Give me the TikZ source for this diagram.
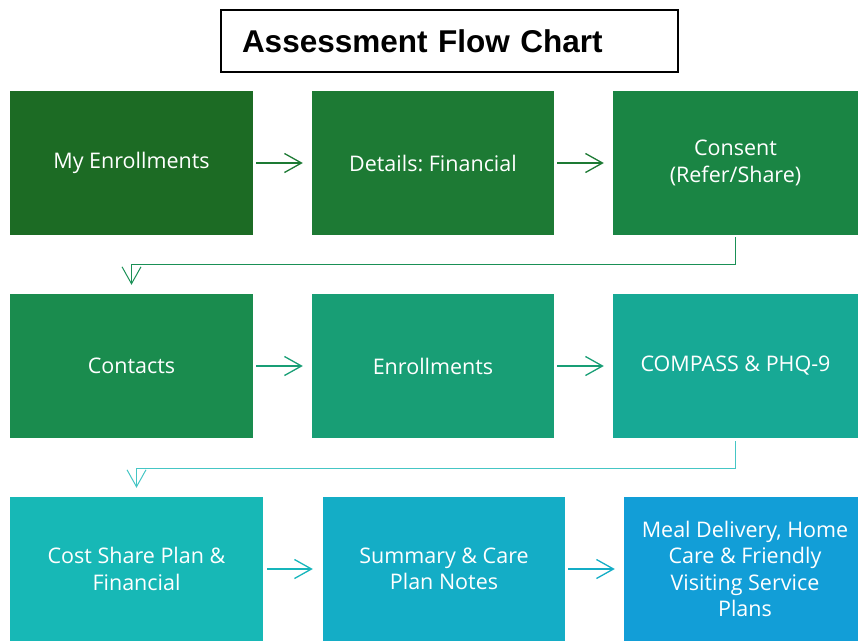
\documentclass[tikz,border=0pt]{standalone}
\usepackage{fontspec}
\setmainfont{Open Sans}
\newfontfamily\titlefont{Liberation Sans}
\usetikzlibrary{arrows.meta}
\frenchspacing

\definecolor{gA}{HTML}{1C6B24}
\definecolor{gB}{HTML}{1D7A34}
\definecolor{gC}{HTML}{1A8544}
\definecolor{gD}{HTML}{1A8C4E}
\definecolor{gE}{HTML}{189E75}
\definecolor{gF}{HTML}{17A995}
\definecolor{gG}{HTML}{17B8B6}
\definecolor{gH}{HTML}{14ADC6}
\definecolor{gI}{HTML}{129ED7}

\begin{document}
\begin{tikzpicture}[x=1pt, y=-1pt, box/.style={rectangle, inner sep=2pt, minimum height=144pt, text=white, align=center, font=\fontsize{21.5}{26.5}\selectfont}, title/.style={rectangle, draw, line width=1.5pt, minimum height=62pt, inner xsep=21pt, text width=415pt, align=left, font=\titlefont\bfseries\fontsize{31.5}{34}\selectfont}, n/.style={-{Straight Barb[length=17pt, width=19pt]}, line width=1.3pt}]
            \useasboundingbox (0,0) rectangle (858,640);
            % nodes
            \node[title] (head) at (449.5,41) {Assessment Flow Chart};
            \node[box, fill=gA, minimum width=243pt] (myenr) at (131.5,163) {My Enrollments};
            \node[box, fill=gB, minimum width=242pt] (detail) at (433,163) {Details: Financial};
            \node[box, fill=gC, minimum width=245pt] (cons) at (735.5,163) {Consent\\(Refer/Share)};
            \node[box, fill=gD, minimum width=243pt] (contacts) at (131.5,366) {Contacts};
            \node[box, fill=gE, minimum width=242pt] (enr) at (433,366) {Enrollments};
            \node[box, fill=gF, minimum width=245pt] (compass) at (735.5,366) {COMPASS \& PHQ-9};
            \node[box, fill=gG, minimum width=253pt] (cost) at (136.5,569) {Cost Share Plan \&\\Financial};
            \node[box, fill=gH, minimum width=242pt] (summ) at (444,569) {Summary \& Care\\Plan Notes};
            \node[box, fill=gI, minimum width=242pt] (meal) at (745,569) {Meal Delivery, Home\\Care \& Friendly\\Visiting Service\\Plans};
            % edges
            \draw [n, color=gB, shorten <=3pt, shorten >=9pt] (myenr) -- (detail);
            \draw [n, color=gB, shorten <=3pt, shorten >=9pt] (detail) -- (cons);
            \draw [n, color=gD!80!gE, line width=1pt, shorten <=2pt, shorten >=9pt] (cons.south) -- ++(0,29) -| (contacts.north);
            \draw [n, color=gE, shorten <=3pt, shorten >=9pt] (contacts) -- (enr);
            \draw [n, color=gE, shorten <=3pt, shorten >=9pt] (enr) -- (compass);
            \draw [n, color=gG!80!white, line width=1pt, shorten <=3pt, shorten >=9pt] (compass.south) -- ++(0,30) -| (cost.north);
            \draw [n, color=gG!70!gH, shorten <=4pt, shorten >=10pt] (cost) -- (summ);
            \draw [n, color=gH, shorten <=3pt, shorten >=9pt] (summ) -- (meal);
        \end{tikzpicture}
\end{document}
